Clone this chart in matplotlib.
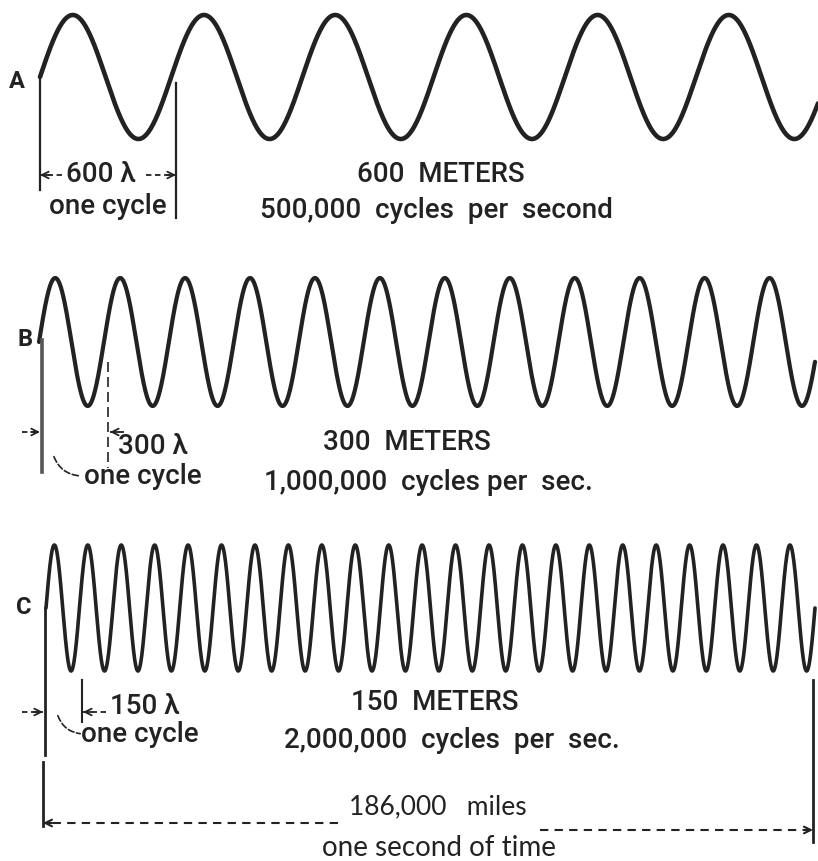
import numpy as np
import matplotlib
matplotlib.use("Agg")
import matplotlib.pyplot as plt

# ---------------- data ----------------
wave_labels = ["A", "B", "C"]
wavelengths_m = [600, 300, 150]
lambda_texts = ["600 λ", "300 λ", "150 λ"]
meter_texts = ["600  METERS", "300  METERS", "150  METERS"]
freq_texts = ["500,000  cycles  per  second",
              "1,000,000  cycles per  sec.",
              "2,000,000  cycles  per  sec."]
cycles_shown = [5.93, 11.95, 23.0]       # cycles drawn across one second
cycle_label = "one cycle"
distance_text = "186,000   miles"
time_text = "one second of time"

# ---------------- layout (pixels) ----------------
W, H = 818, 861
x_start = [40, 39, 46]
x_end = [818, 815, 815]
mid_y = [77, 342, 608]
amp = [62, 64, 63]
wave_lw = [3.3, 3.0, 2.6]
ink = "#222222"
FONT = ["Roboto", "DejaVu Sans"]
FONT2 = ["Lato", "DejaVu Sans"]
TW = "medium"

fig = plt.figure(figsize=(W / 100, H / 100), dpi=100)
ax = fig.add_axes([0, 0, 1, 1])
ax.set_xlim(0, W)
ax.set_ylim(H, 0)
ax.axis("off")

# waves
for i in range(3):
    x = np.linspace(x_start[i], x_end[i], 4000)
    ph = (x - x_start[i]) / (x_end[i] - x_start[i]) * cycles_shown[i]
    y = mid_y[i] - amp[i] * np.sin(2 * np.pi * ph)
    ax.plot(x, y, color=ink, lw=wave_lw[i], solid_capstyle="round")

# labels A B C
lab_pos = [(17, 82), (25, 340), (24, 607)]
for (lx, ly), t in zip(lab_pos, wave_labels):
    ax.text(lx, ly, t, fontsize=17, fontweight="bold", family=FONT,
            color=ink, ha="center", va="center")


def vline(x, y0, y1, lw=1.5, ls="-", color=ink):
    ax.plot([x, x], [y0, y1], color=color, lw=lw, ls=ls)


def darrow(x_tail, x_tip, y, lw=1.3, dashes=(3, 2)):
    ax.plot([x_tail, x_tip], [y, y], color=ink, lw=lw, dashes=dashes)
    d = 1 if x_tip > x_tail else -1
    ax.annotate("", xy=(x_tip, y), xytext=(x_tip - d * 9, y),
                arrowprops=dict(arrowstyle="->", color=ink, lw=lw,
                                shrinkA=0, shrinkB=0, mutation_scale=12))


def ctext(x, y, s, size=20, ha="center", fam=FONT, weight=TW):
    ax.text(x, y, s, fontsize=size, family=fam, color=ink,
            ha=ha, va="center", fontweight=weight)


# ---- A annotations ----
vline(40, 78, 190, lw=1.6)
vline(176, 83, 218, lw=1.6)
darrow(62, 40, 175)
darrow(146, 176, 175)
ctext(101, 175, lambda_texts[0])
ctext(108, 206, cycle_label)
ctext(441, 175, meter_texts[0])
ctext(436, 210, freq_texts[0])

# ---- B annotations ----
vline(42, 340, 472, lw=2.6, color="#555555")
vline(108, 362, 468, lw=1.2, ls=(0, (6, 3)))
darrow(22, 40, 432)
darrow(124, 110, 432)
ax.annotate("", xy=(82, 476), xytext=(53, 454),
            arrowprops=dict(arrowstyle="-", color=ink, lw=1.2, ls="--",
                            connectionstyle="arc3,rad=0.35"))
ctext(118, 446, lambda_texts[1], ha="left")
ctext(143, 477, cycle_label)
ctext(407, 443, meter_texts[1])
ctext(428, 482, freq_texts[1])

# ---- C annotations ----
vline(45, 608, 755, lw=2.0)
vline(43, 762, 826, lw=2.0)
vline(82, 680, 722, lw=1.5)
vline(813, 680, 842, lw=2.0)
darrow(22, 43, 712)
darrow(106, 83, 712)
ax.annotate("", xy=(83, 734), xytext=(57, 713),
            arrowprops=dict(arrowstyle="-", color=ink, lw=1.2, ls="--",
                            connectionstyle="arc3,rad=0.35"))
ctext(110, 706, lambda_texts[2], ha="left")
ctext(140, 734, cycle_label)
ctext(435, 703, meter_texts[2])
ctext(452, 741, freq_texts[2])

# ---- one second span ----
darrow(338, 43, 823, lw=1.5, dashes=(4, 3))
darrow(540, 813, 830, lw=1.5, dashes=(4, 3))
ctext(438, 807, distance_text, size=19, fam=FONT2, weight="normal")
ctext(439, 848, time_text, size=20, fam=FONT2, weight="normal")

fig.savefig("out.png", dpi=100, facecolor="white")
